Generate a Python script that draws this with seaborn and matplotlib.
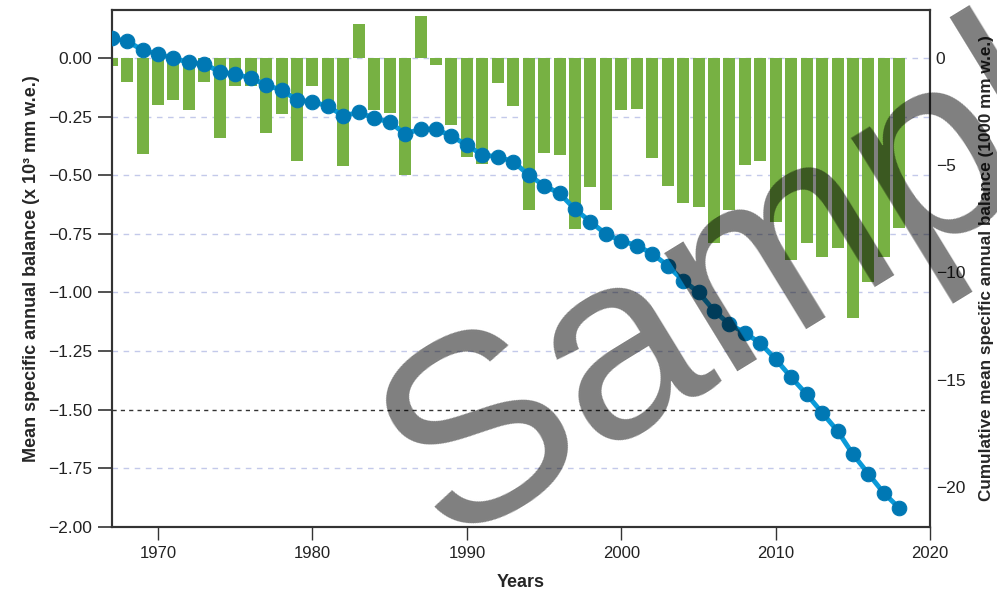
import numpy as np
import pandas as pd
import matplotlib
matplotlib.use("Agg")
import matplotlib.pyplot as plt
import seaborn as sns
from matplotlib import font_manager

years = list(range(1967, 2019))
annual_balance = [-0.034, -0.10, -0.41, -0.20, -0.18, -0.22, -0.10, -0.34, -0.12, -0.12,
                  -0.32, -0.24, -0.44, -0.12, -0.22, -0.46, 0.145, -0.22, -0.235, -0.50,
                  0.18, -0.03, -0.285, -0.42, -0.45, -0.105, -0.205, -0.65, -0.405, -0.415,
                  -0.73, -0.55, -0.65, -0.22, -0.215, -0.425, -0.545, -0.62, -0.635, -0.79,
                  -0.65, -0.455, -0.44, -0.70, -0.86, -0.79, -0.85, -0.81, -1.11, -0.955,
                  -0.85, -0.725]
cumulative_balance = [0.92, 0.79, 0.37, 0.19, -0.01, -0.20, -0.28, -0.64, -0.76, -0.92,
                      -1.26, -1.49, -1.96, -2.04, -2.24, -2.70, -2.53, -2.81, -2.98, -3.54,
                      -3.31, -3.31, -3.64, -4.06, -4.52, -4.60, -4.83, -5.45, -5.95, -6.31,
                      -7.05, -7.63, -8.21, -8.52, -8.75, -9.12, -9.68, -10.38, -10.92, -11.78,
                      -12.42, -12.81, -13.30, -14.05, -14.89, -15.68, -16.54, -17.39, -18.48, -19.39,
                      -20.29, -20.99]
x_ticks = [1970, 1980, 1990, 2000, 2010, 2020]
left_ticks = [0.0, -0.25, -0.5, -0.75, -1.0, -1.25, -1.5, -1.75, -2.0]
right_ticks = [0, -5, -10, -15, -20]

sns.set_theme(style="white")
plt.rcParams["font.family"] = ["Liberation Sans", "DejaVu Sans"]
names = {f.name for f in font_manager.fontManager.ttflist}
narrow = "Liberation Sans Narrow" if "Liberation Sans Narrow" in names else "Liberation Sans"


def fmt(v, nd):
    s = f"{abs(v):.{nd}f}"
    return ("\u2212" + s) if v < 0 else s


df = pd.DataFrame({"year": years, "annual": annual_balance, "cum": cumulative_balance})

fig = plt.figure(figsize=(9.97, 5.92), dpi=100)
ax = fig.add_axes([0.112, 0.110, 0.821, 0.873])

for y in left_ticks[:-1]:
    if y == -1.5:
        ax.axhline(y, ls=(0, (3, 3)), color="#333333", lw=1.0, zorder=1)
    else:
        ax.axhline(y, ls=(0, (4, 4)), color="#c3c9ea", lw=1.0, zorder=1)

sns.barplot(data=df, x="year", y="annual", native_scale=True, color="#77b143",
            saturation=1, width=0.78, errorbar=None, linewidth=0, ax=ax, zorder=2)
ax.set_xlim(1967, 2020)
ax.set_ylim(-2.0, 0.205)
ax.set_xticks(x_ticks)
ax.set_yticks(left_ticks)
ax.set_yticklabels([fmt(v, 2) for v in left_ticks])
ax.set_xticklabels([str(v) for v in x_ticks], family=narrow, fontsize=12)
ax.tick_params(axis="y", which="both", left=True, length=10, width=1.2, color="#333333",
               labelsize=12.5, pad=4, labelcolor="#222222")
ax.tick_params(axis="x", which="both", bottom=True, length=9, width=1.0, color="#333333",
               pad=5, labelcolor="#222222")
ax.set_xlabel("Years", fontsize=13, fontweight="bold", family=narrow, labelpad=9)
ax.set_ylabel("Mean specific annual balance (x 10³ mm w.e.)", fontsize=13,
              fontweight="bold", labelpad=6)
for s in ax.spines.values():
    s.set_color("#333333")
    s.set_linewidth(1.5)

ax2 = ax.twinx()
sns.lineplot(data=df, x="year", y="cum", ax=ax2, color="#0a9ad8", lw=3.5,
             marker="o", markersize=10.5, markerfacecolor="#0078b4",
             markeredgecolor="#0078b4", zorder=3)
ax2.set_ylim(-21.865, 2.238)
ax2.set_xlim(1967, 2020)
ax2.set_yticks(right_ticks)
ax2.set_yticklabels([fmt(v, 0) for v in right_ticks])
ax2.tick_params(axis="y", right=True, length=0, labelsize=12.5, pad=4, labelcolor="#222222")
ax2.set_ylabel("Cumulative mean specific annual balance (1000 mm w.e.)", fontsize=12.3,
               fontweight="bold", labelpad=10)
ax2.set_xlabel("")
for s in ax2.spines.values():
    s.set_color("#333333")
    s.set_linewidth(1.5)

fig.text(0.447, 0.083, "Sample", fontsize=190, rotation=31.5, rotation_mode="anchor",
         ha="left", va="baseline", color="black", alpha=0.5, zorder=10,
         family="Liberation Sans")

fig.savefig("out.png", dpi=100)
